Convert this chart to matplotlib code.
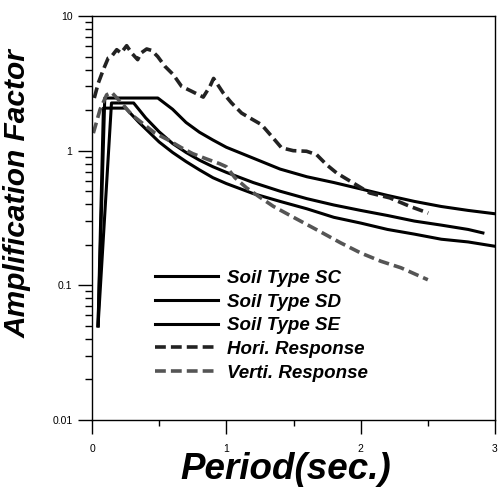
import matplotlib
matplotlib.use("Agg")
import matplotlib.pyplot as plt
from matplotlib.ticker import FixedLocator, NullFormatter, FixedFormatter

# ---- data ----
sc_T = [0.045, 0.095, 0.49, 0.6, 0.7, 0.8, 0.9, 1.0, 1.2, 1.4, 1.6, 1.8, 2.0, 2.2, 2.4, 2.6, 2.8, 3.0]
sc_A = [0.05, 2.46, 2.46, 2.03, 1.62, 1.37, 1.20, 1.06, 0.88, 0.73, 0.64, 0.58, 0.52, 0.465, 0.42, 0.385, 0.36, 0.34]

sd_T = [0.045, 0.145, 0.31, 0.4, 0.5, 0.6, 0.7, 0.8, 0.9, 1.0, 1.2, 1.4, 1.6, 1.8, 2.0, 2.2, 2.4, 2.6, 2.8, 2.91]
sd_A = [0.05, 2.26, 2.26, 1.75, 1.38, 1.13, 0.97, 0.85, 0.76, 0.69, 0.58, 0.50, 0.44, 0.395, 0.36, 0.33, 0.30, 0.28, 0.26, 0.245]

se_T = [0.045, 0.085, 0.25, 0.35, 0.4, 0.5, 0.6, 0.7, 0.8, 0.9, 1.0, 1.2, 1.4, 1.6, 1.8, 2.0, 2.2, 2.4, 2.6, 2.8, 3.0]
se_A = [0.05, 2.07, 2.07, 1.62, 1.45, 1.16, 0.97, 0.83, 0.72, 0.63, 0.57, 0.48, 0.42, 0.37, 0.32, 0.29, 0.26, 0.24, 0.22, 0.21, 0.195]

hori_T = [0.017, 0.047, 0.084, 0.121, 0.146, 0.184, 0.216, 0.258, 0.295, 0.34, 0.365, 0.407, 0.444, 0.489,
          0.543, 0.605, 0.667, 0.742, 0.828, 0.878, 0.905, 0.977, 1.039, 1.114, 1.188, 1.262, 1.337, 1.411,
          1.498, 1.597, 1.672, 1.746, 1.821, 1.945, 2.068, 2.217, 2.366, 2.503]
hori_A = [2.46, 3.18, 3.99, 4.88, 5.02, 5.62, 5.31, 6.02, 5.31, 4.74, 5.31, 5.69, 5.55, 5.0,
          4.23, 3.67, 3.0, 2.76, 2.5, 3.0, 3.44, 2.68, 2.26, 1.90, 1.72, 1.56, 1.28, 1.05,
          1.0, 0.99, 0.934, 0.787, 0.683, 0.575, 0.485, 0.446, 0.386, 0.344]

vert_T = [0.01, 0.06, 0.109, 0.146, 0.22, 0.295, 0.382, 0.469, 0.568, 0.667, 0.75, 0.85, 0.95, 1.0,
          1.064, 1.15, 1.24, 1.35, 1.5, 1.7, 1.85, 2.0, 2.15, 2.3, 2.5]
vert_A = [1.35, 2.02, 2.6, 2.71, 2.26, 1.85, 1.58, 1.35, 1.2, 1.05, 0.95, 0.87, 0.80, 0.76,
          0.63, 0.53, 0.458, 0.386, 0.32, 0.25, 0.207, 0.174, 0.151, 0.135, 0.11]

labels = ["Soil Type SC", "Soil Type SD", "Soil Type SE", "Hori. Response", "Verti. Response"]
x_ticks = [0, 1, 2, 3]
x_minor = [0.5, 1.5, 2.5]
y_ticks = [0.01, 0.1, 1, 10]
y_ticklabels = ["0.01", "0.1", "1", "10"]

plt.rcParams['font.family'] = ['Liberation Sans', 'DejaVu Sans']

fig = plt.figure(figsize=(4.99, 4.91), dpi=100)
ax = fig.add_axes([92/499, 1-420/491, 403/499, 404/491])

lw = 2.2
ax.plot(sc_T, sc_A, color='black', lw=lw, label=labels[0], solid_joinstyle='round')
ax.plot(sd_T, sd_A, color='black', lw=lw, label=labels[1], solid_joinstyle='round')
ax.plot(se_T, se_A, color='black', lw=lw, label=labels[2], solid_joinstyle='round')
ax.plot(hori_T, hori_A, color='#222222', lw=2.6, dashes=(3.0, 1.4), label=labels[3])
ax.plot(vert_T, vert_A, color='#555555', lw=2.6, dashes=(3.0, 1.4), label=labels[4])

ax.set_yscale('log')
ax.set_xlim(0, 3)
ax.set_ylim(0.01, 10)

ax.xaxis.set_major_locator(FixedLocator(x_ticks))
ax.xaxis.set_minor_locator(FixedLocator(x_minor))
ax.xaxis.set_minor_formatter(NullFormatter())
ax.set_xticklabels([str(v) for v in x_ticks])
ax.yaxis.set_major_locator(FixedLocator(y_ticks))
ax.yaxis.set_major_formatter(FixedFormatter(y_ticklabels))
ax.yaxis.set_minor_formatter(NullFormatter())

ax.tick_params(axis='both', which='major', direction='out', length=10, width=1.0, labelsize=7.5, colors='black')
ax.tick_params(axis='y', which='minor', direction='out', length=5, width=1.0)
ax.tick_params(axis='x', which='minor', direction='out', length=4, width=1.0)
ax.tick_params(axis='x', which='major', pad=7)
ax.tick_params(axis='y', which='major', pad=4)
ax.tick_params(right=False, top=False, which='both')
for s in ax.spines.values():
    s.set_linewidth(1.0)

ax.set_xlabel("Period(sec.)", fontsize=26.5, fontweight='bold', fontstyle='italic', labelpad=0)
ax.xaxis.set_label_coords(0.48, -0.08)
ax.set_ylabel("Amplification Factor", fontsize=21.5, fontweight='bold', fontstyle='italic')
ax.yaxis.set_label_coords(-0.15, 0.56)

leg = ax.legend(loc='upper left', bbox_to_anchor=(0.156, 0.372), frameon=False,
                prop={'size': 13.5, 'weight': 'bold', 'style': 'italic'},
                handlelength=3.36, handletextpad=0.48, labelspacing=0.35, borderpad=0, borderaxespad=0)

fig.savefig("out.png", dpi=100)
